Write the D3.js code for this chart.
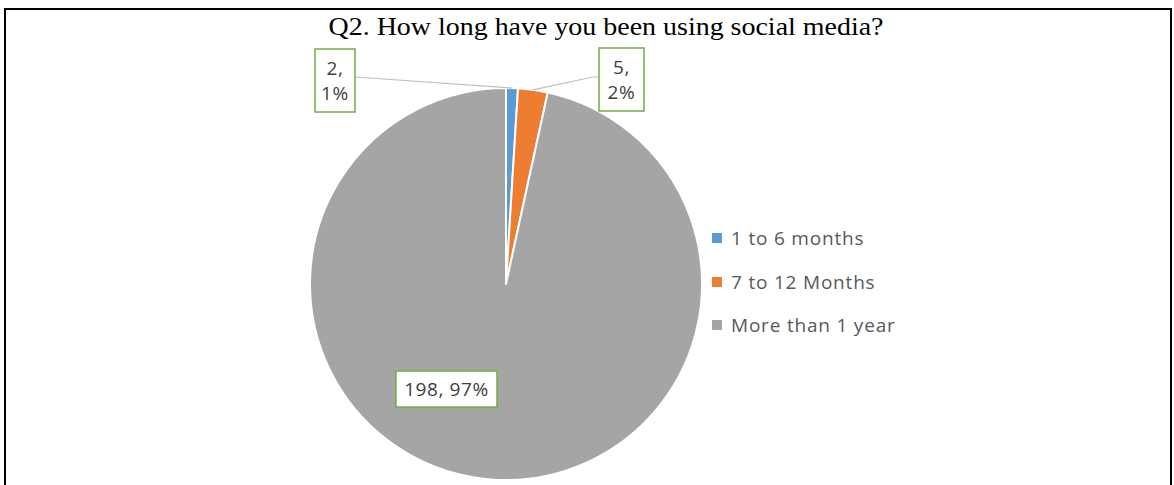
<!DOCTYPE html>
<html>
<head>
<meta charset="utf-8">
<script src="https://cdn.jsdelivr.net/npm/d3@7"></script>
<style>
  html, body { margin: 0; padding: 0; background: #fff; }
  svg { display: block; }
</style>
</head>
<body>
<svg id="chart" width="1174" height="485"></svg>
<script>
// Survey responses for Q2
const categories = ["1 to 6 months", "7 to 12 Months", "More than 1 year"];
const counts = [2, 5, 198];
const percents = ["1%", "2%", "97%"];
const colors = ["#5B9BD5", "#ED7D31", "#A5A5A5"];
const title = "Q2. How long have you been using social media?";

const svg = d3.select("#chart");
const W = 1174, H = 485;

// frame around the figure
svg.append("line").attr("x1", 5).attr("x2", 5).attr("y1", 8).attr("y2", H).attr("stroke", "#000").attr("stroke-width", 2);
svg.append("line").attr("x1", 4).attr("x2", 1172).attr("y1", 9).attr("y2", 9).attr("stroke", "#000").attr("stroke-width", 2);
svg.append("line").attr("x1", 1171).attr("x2", 1171).attr("y1", 8).attr("y2", H).attr("stroke", "#000").attr("stroke-width", 2);

// title
svg.append("text")
  .attr("x", 606).attr("y", 35)
  .attr("text-anchor", "middle")
  .attr("font-family", "'Liberation Serif', 'Times New Roman', serif")
  .attr("font-size", 26)
  .attr("textLength", 555)
  .attr("lengthAdjust", "spacingAndGlyphs")
  .attr("fill", "#000")
  .text(title);

// pie
const cx = 506, cy = 284, R = 196;
const pie = d3.pie().sort(null).value(d => d)(counts);
const arc = d3.arc().innerRadius(0).outerRadius(R);
const g = svg.append("g").attr("transform", `translate(${cx},${cy})`);
g.selectAll("path").data(pie).join("path")
  .attr("d", arc)
  .attr("fill", (d, i) => colors[i])
  .attr("stroke", "#fff")
  .attr("stroke-width", 2)
  .attr("stroke-linejoin", "round");

const labelFont = "'Open Sans', 'Noto Sans', sans-serif";
const outerPt = (d, r) => {
  const a = (d.startAngle + d.endAngle) / 2;
  return [cx + Math.sin(a) * r, cy - Math.cos(a) * r];
};

// leader lines for the small slices
const p0 = outerPt(pie[0], R);
const p1 = outerPt(pie[1], R);
svg.append("polyline")
  .attr("points", [[355, 77], [p0[0], p0[1]]].map(p => p.join(",")).join(" "))
  .attr("fill", "none").attr("stroke", "#BFBFBF").attr("stroke-width", 1.2);
svg.append("polyline")
  .attr("points", [[599, 77], [593, 77], [p1[0], p1[1]]].map(p => p.join(",")).join(" "))
  .attr("fill", "none").attr("stroke", "#BFBFBF").attr("stroke-width", 1.2);

// data label boxes
function boxLabel(x, y, w, h, lines) {
  svg.append("rect").attr("x", x).attr("y", y).attr("width", w).attr("height", h)
    .attr("fill", "#fff").attr("stroke", "#70AD47").attr("stroke-width", 1.5);
  const lh = 25;
  const y0 = y + h / 2 - (lines.length - 1) * lh / 2;
  lines.forEach((s, k) => {
    svg.append("text")
      .attr("x", x + w / 2).attr("y", y0 + k * lh)
      .attr("dy", "0.36em")
      .attr("text-anchor", "middle")
      .attr("font-family", labelFont)
      .attr("font-size", 19)
      .attr("letter-spacing", 0.6)
      .attr("fill", "#404040")
      .text(s);
  });
}
boxLabel(315, 49, 40, 63, [counts[0] + ",", percents[0]]);
boxLabel(599, 48, 45, 63, [counts[1] + ",", percents[1]]);
boxLabel(396, 371, 101, 36, [counts[2] + ", " + percents[2]]);

// legend
const legendRows = [238, 282, 325];
const leg = svg.append("g");
categories.forEach((c, i) => {
  const y = legendRows[i];
  leg.append("rect").attr("x", 712).attr("y", y - 5).attr("width", 10).attr("height", 10).attr("fill", colors[i]);
  leg.append("text").attr("x", 731).attr("y", y).attr("dy", "0.36em")
    .attr("font-family", labelFont).attr("font-size", 19)
    .attr("letter-spacing", 0.8)
    .attr("fill", "#595959")
    .text(c);
});
</script>
</body>
</html>
